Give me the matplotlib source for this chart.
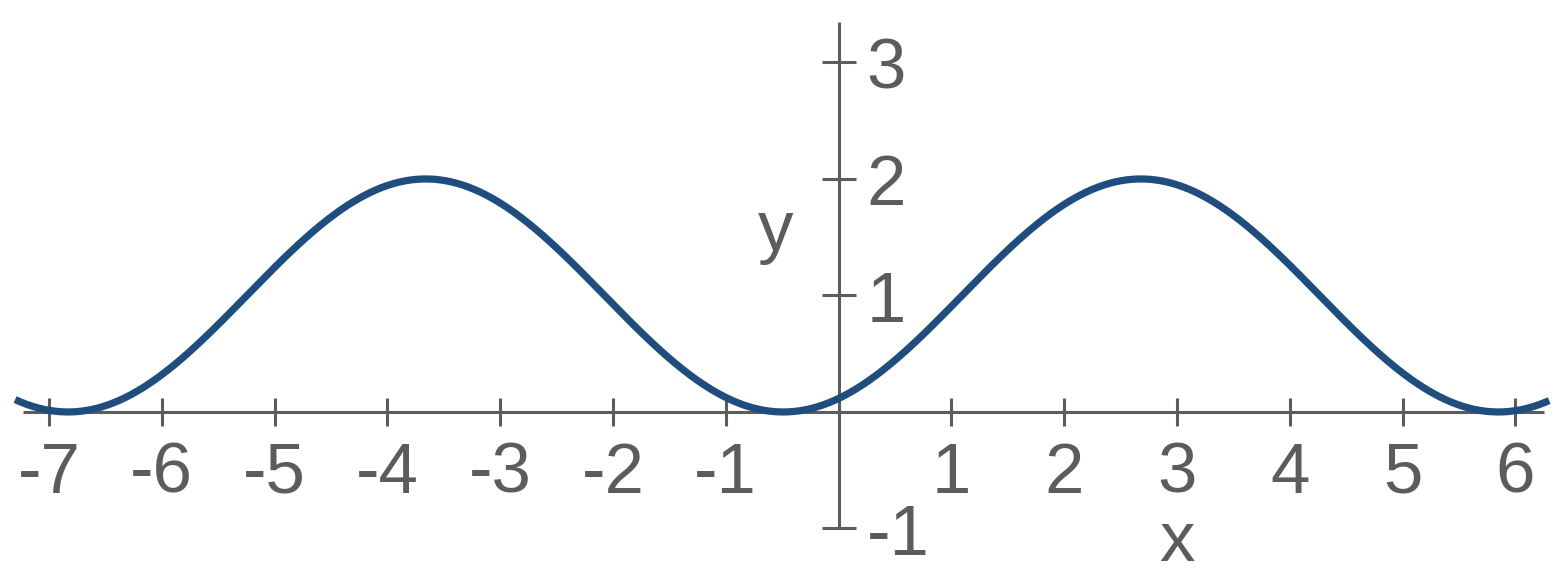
import numpy as np
import matplotlib.pyplot as plt

plt.rcParams['font.family'] = ['Liberation Sans', 'DejaVu Sans']

# 曲线参数 (y = offset - amplitude * cos(freq * (x + phase)))
amplitude = 1.0
offset = 1.0
freq = 0.991
phase = 0.49
x_start, x_end = -7.3, 6.3

# 刻度
x_ticks = [-7, -6, -5, -4, -3, -2, -1, 1, 2, 3, 4, 5, 6]
y_ticks = [-1, 1, 2, 3]
x_tick_labels = ['-7', '-6', '-5', '-4', '-3', '-2', '-1', '1', '2', '3', '4', '5', '6']
y_tick_labels = ['-1', '1', '2', '3']

axis_color = '#5c5c5c'
curve_color = '#1f4d7e'

fig = plt.figure(figsize=(15.67, 5.83), dpi=100)
ax = fig.add_axes([0, 0, 1, 1])
ax.set_xlim(-7.434, 6.458)
ax.set_ylim(-1.468, 3.536)

# 坐标轴穿过原点
for side in ['top', 'right']:
    ax.spines[side].set_visible(False)
ax.spines['left'].set_position(('data', 0))
ax.spines['bottom'].set_position(('data', 0))
ax.spines['left'].set_bounds(-1, 3.35)
ax.spines['bottom'].set_bounds(-7.23, 6.25)
for side in ['left', 'bottom']:
    ax.spines[side].set_color(axis_color)
    ax.spines[side].set_linewidth(2.2)
    ax.spines[side].set_capstyle('butt')

ax.set_xticks(x_ticks)
ax.set_yticks(y_ticks)
ax.tick_params(axis='x', direction='inout', length=20, width=2.2, color=axis_color, labelbottom=False)
ax.tick_params(axis='y', direction='inout', length=24, width=2.2, color=axis_color, labelleft=False)

# 曲线
x = np.linspace(x_start, x_end, 800)
y = offset - amplitude * np.cos(freq * (x + phase))
ax.plot(x, y, color=curve_color, linewidth=5.2, solid_capstyle='butt', zorder=3)

# 刻度标签
fs = 51
for t, lab in zip(x_ticks, x_tick_labels):
    ax.text(t, -0.695, lab, ha='center', va='baseline', fontsize=fs, color=axis_color)
for t, lab in zip(y_ticks, y_tick_labels):
    ax.text(0.25, t - 0.225, lab, ha='left', va='baseline', fontsize=fs, color=axis_color)

# 轴标签
ax.text(-0.563, 1.39, 'y', ha='center', va='baseline', fontsize=fs, color=axis_color)
ax.text(3.0, -1.279, 'x', ha='center', va='baseline', fontsize=fs, color=axis_color)

plt.savefig('out.png', dpi=100)
